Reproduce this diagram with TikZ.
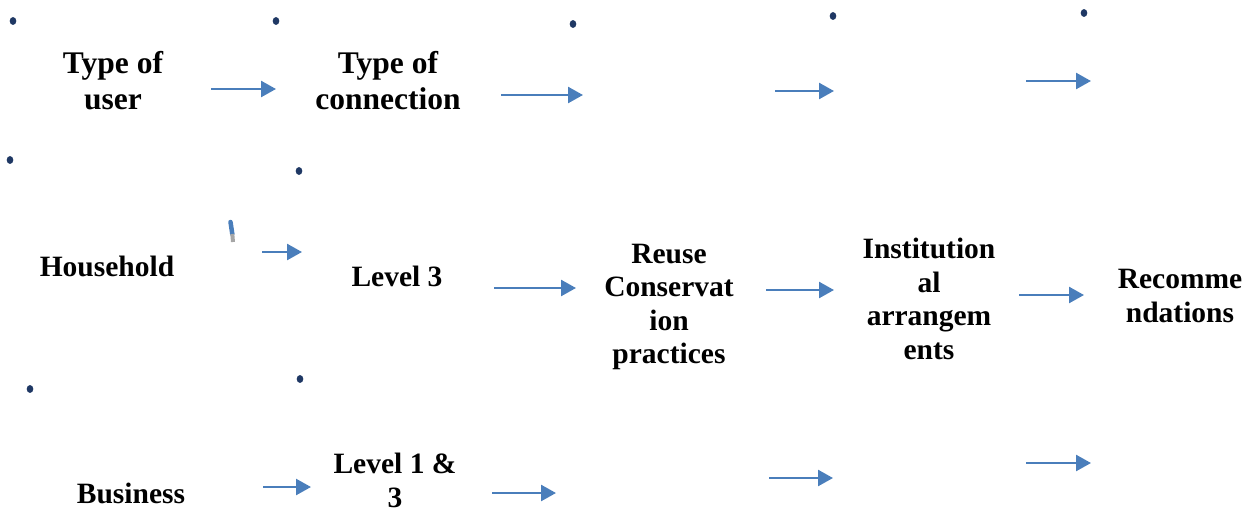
\documentclass[tikz,border=0pt]{standalone}
\usepackage{fontspec}
\setmainfont{Liberation Serif}
\usetikzlibrary{arrows.meta}
\definecolor{arrowblue}{HTML}{4A7EBB}
\definecolor{dotnavy}{HTML}{1F3864}
\tikzset{
  lbl/.style={font=\fontsize{29.5}{33.5}\selectfont\bfseries, align=center, inner sep=0pt},
  head/.style={font=\fontsize{31.5}{36}\selectfont\bfseries, align=center, inner sep=0pt},
  flow/.style={draw=arrowblue, line width=2.5pt, -{Triangle[length=15pt,width=16pt]}},
  bullet/.style={fill=dotnavy},
}
\begin{document}
\begin{tikzpicture}[x=1pt,y=-1pt]
\useasboundingbox (0,0) rectangle (1255,512);
% text nodes
\node[head] (user) at (113,81) {Type of\\user};
\node[head] (conn) at (388,81) {Type of\\connection};
\node[lbl] (house) at (107,266) {Household};
\node[lbl] (lev3) at (397,276) {Level 3};
\node[lbl] (reuse) at (669,307) {Reuse\\Conservat\\ion\\practices};
\node[lbl] (inst) at (929,299) {Institution\\al\\arrangem\\ents};
\node[lbl] (rec) at (1180,296) {Recomme\\ndations};
\node[lbl] (bus) at (131,493) {Business};
\node[lbl] (lev13) at (395,480.5) {Level 1 \&\\3};
% arrow end points
\coordinate (a1s) at (211,89);  \coordinate (a1e) at (276,89);
\coordinate (a2s) at (501,95);  \coordinate (a2e) at (583,95);
\coordinate (a3s) at (775,91);  \coordinate (a3e) at (834,91);
\coordinate (a4s) at (1026,81); \coordinate (a4e) at (1091,81);
\coordinate (a5s) at (262,252); \coordinate (a5e) at (302,252);
\coordinate (a6s) at (494,288); \coordinate (a6e) at (576,288);
\coordinate (a7s) at (766,290); \coordinate (a7e) at (834,290);
\coordinate (a8s) at (1019,295); \coordinate (a8e) at (1084,295);
\coordinate (a9s) at (263,487); \coordinate (a9e) at (311,487);
\coordinate (a10s) at (492,493); \coordinate (a10e) at (556,493);
\coordinate (a11s) at (769,478); \coordinate (a11e) at (833,478);
\coordinate (a12s) at (1026,463); \coordinate (a12e) at (1091,463);
\foreach \i in {1,...,12} { \draw[flow] (a\i s) -- (a\i e); }
% dots
\foreach \p in {(13,21),(276,21),(573,24),(833,16),(1084,13),(10,160),(299,171),(30,389),(300,379)}
  \fill[bullet] \p ellipse [x radius=3.3, y radius=3.9];
% small mark near Household
\draw[draw=arrowblue, line width=4.5pt, line cap=round] (230.5,222) -- (232.3,234);
\draw[draw=gray!70, line width=4pt] (232.3,234) -- (233,242);
\end{tikzpicture}
\end{document}
